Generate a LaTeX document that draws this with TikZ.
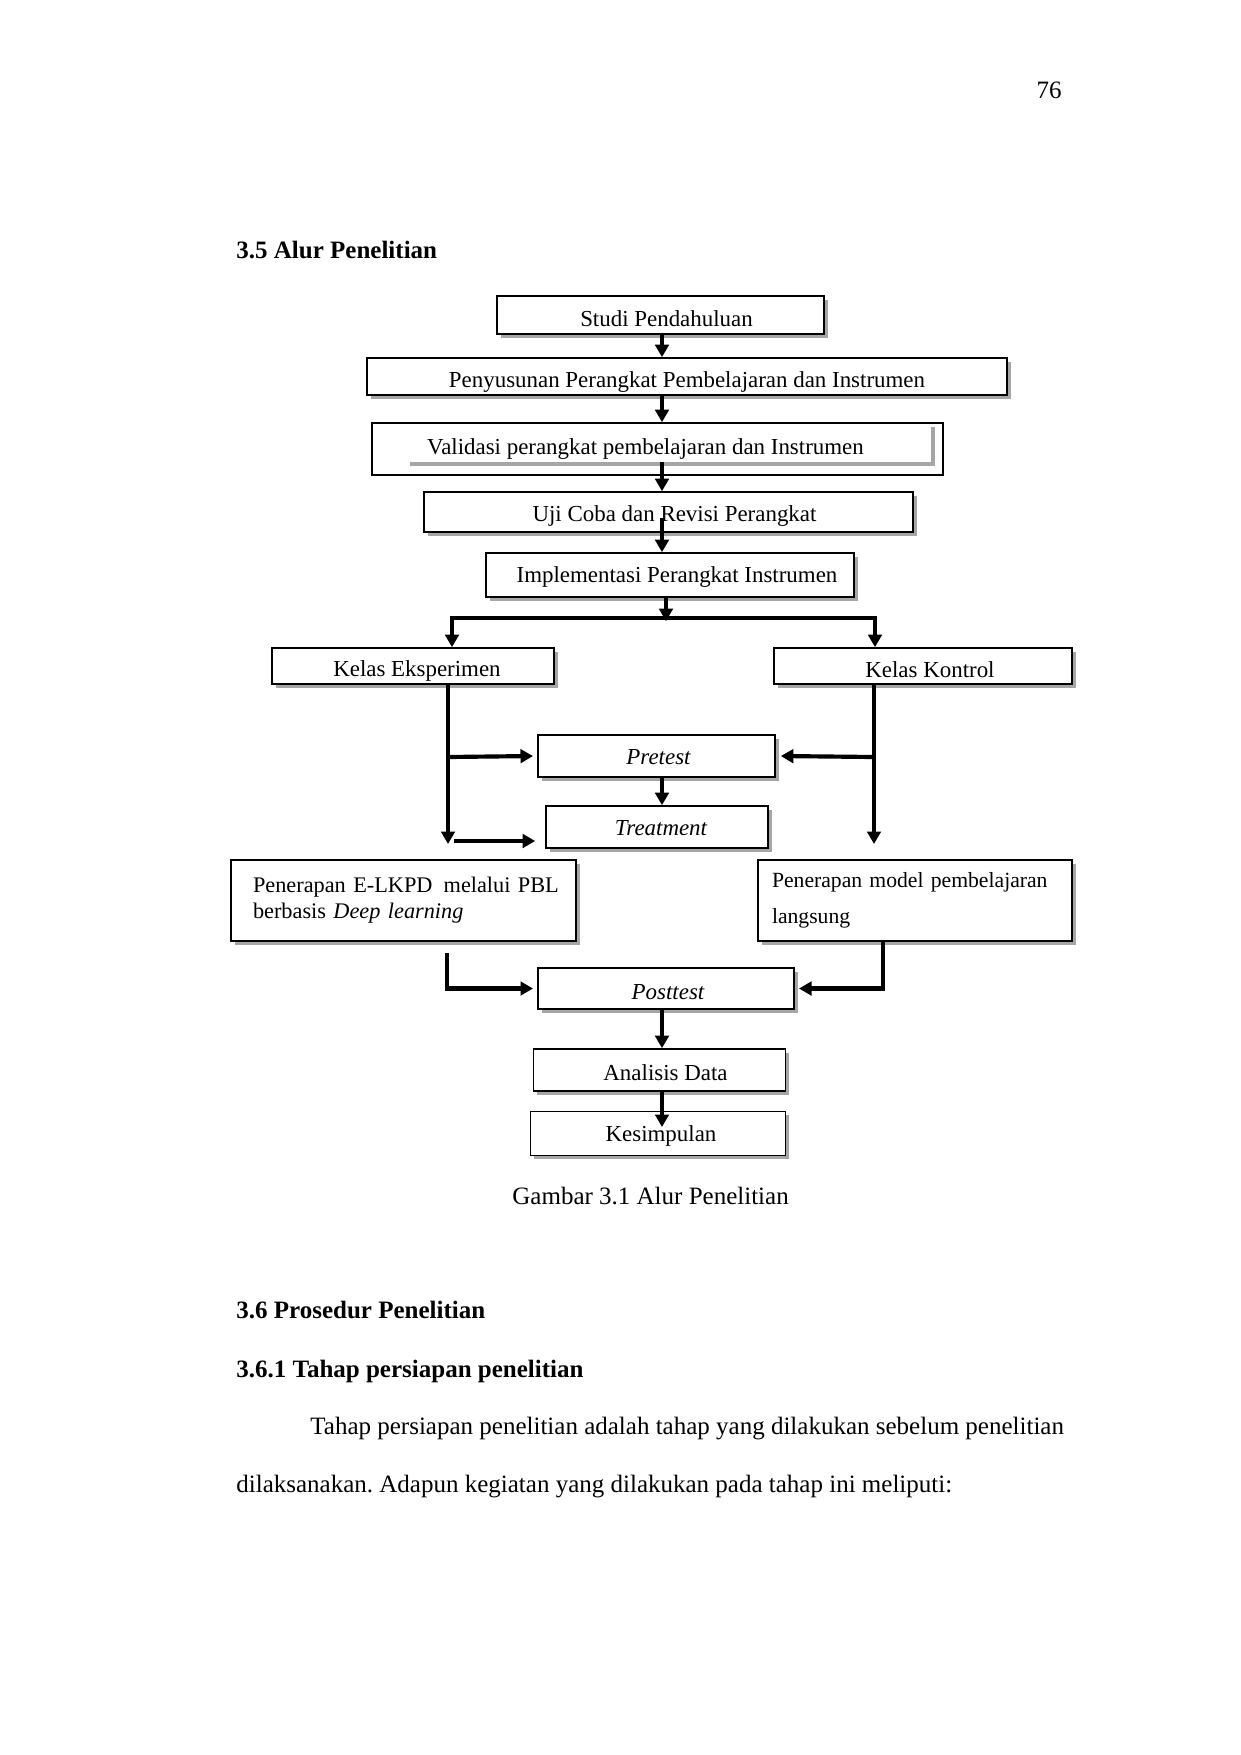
\documentclass[tikz,border=0pt]{standalone}
\usepackage{fontspec}
\setmainfont{Liberation Serif}
\usetikzlibrary{arrows.meta,shadows}
\newcommand\pxu{0.48pt}
\newlength\pxl
\setlength\pxl{0.48pt}
\frenchspacing
\begin{document}
\begin{tikzpicture}[x=0.48pt,y=-0.48pt,
  fbox/.style={draw=black, line width=0.8pt, fill=white, inner sep=0pt,
    font=\fontsize{11}{13}\selectfont,
    general shadow={fill=gray!70, shadow xshift=1.9pt, shadow yshift=-1.9pt}},
  plainbox/.style={draw=black, line width=0.8pt, fill=white, inner sep=0pt,
    font=\fontsize{11}{13}\selectfont},
  th/.style={text height=#1, text depth=0pt},
  arr/.style={line width=2pt, -{Triangle[length=6pt,width=6.5pt]}},
  darr/.style={line width=2pt, line join=miter, {Triangle[length=6pt,width=6.5pt]}-{Triangle[length=6pt,width=6.5pt]}},
  hd/.style={font=\fontsize{12}{14}\selectfont\bfseries, anchor=base west, inner sep=0pt},
  bt/.style={font=\fontsize{12}{14}\selectfont, anchor=base west, inner sep=0pt},
]
\fill[white] (0,0) rectangle (1241,1755);
\useasboundingbox (0,0) rectangle (1241,1755);

% page texts
\node[bt, anchor=base east] (pgnum) at (1062,98) {76};
\node[hd] (h35) at (236,258) {3.5 Alur Penelitian};

% boxes
\node[fbox, th=10.8pt, minimum width=327*\pxu, minimum height=38*\pxu] (studi) at (660.5,315) {\hspace*{12\pxl}Studi Pendahuluan};
\node[fbox, th=10.4pt, minimum width=640*\pxu, minimum height=37*\pxu] (penyus) at (687,376.5) {Penyusunan Perangkat Pembelajaran dan Instrumen};
\node[plainbox, minimum width=571*\pxu, minimum height=52*\pxu] (valid) at (657.5,449) {\hspace*{-24\pxl}Validasi perangkat pembelajaran dan Instrumen};
\draw[gray!70, line width=1.9pt] (410,464) -- (933,464) -- (933,427);
\node[fbox, th=9.5pt, minimum width=489*\pxu, minimum height=40*\pxu] (uji) at (668.5,512) {\hspace*{12\pxl}Uji Coba dan Revisi Perangkat};
\node[fbox, th=7.3pt, minimum width=368*\pxu, minimum height=44*\pxu] (impl) at (670,575) {\hspace*{14\pxl}Implementasi Perangkat Instrumen};
\node[fbox, th=10.4pt, minimum width=282*\pxu, minimum height=36*\pxu] (ke) at (413,666) {\hspace*{8\pxl}Kelas Eksperimen};
\node[fbox, th=10.8pt, minimum width=298*\pxu, minimum height=36*\pxu] (kk) at (923,666) {\hspace*{14\pxl}Kelas Kontrol};
\node[fbox, th=8.6pt, minimum width=237*\pxu, minimum height=42*\pxu] (pre) at (656.5,756) {\itshape\hspace*{4\pxl}Pretest};
\node[fbox, th=8.6pt, minimum width=222*\pxu, minimum height=42*\pxu] (tr) at (657,827) {\itshape\hspace*{8\pxl}Treatment};
\node[fbox, text width=301*\pxu, inner xsep=22*\pxu, minimum height=81*\pxu, align=left,
  font=\fontsize{10.7}{12.5}\selectfont] (elkpd) at (403.5,900.5)
  {\mbox{Penerapan E-LKPD\hspace{0.5em}melalui PBL}\\\mbox{berbasis \textit{Deep learning}}};
\node[fbox, text width=286*\pxu, inner xsep=14*\pxu, minimum height=81*\pxu, align=left,
  font=\fontsize{10.4}{17.3}\selectfont] (pm) at (915,900.5)
  {\mbox{Penerapan model pembelajaran}\\\mbox{langsung}};
\node[fbox, th=10.8pt, minimum width=256*\pxu, minimum height=41*\pxu] (post) at (666,988.5) {\itshape\hspace*{4\pxl}Posttest};
\node[fbox, th=9.7pt, minimum width=252*\pxu, minimum height=42*\pxu] (ana) at (659.5,1070) {\hspace*{12\pxl}Analisis Data};
\node[fbox, th=7.3pt, minimum width=255*\pxu, minimum height=44*\pxu] (kes) at (658,1133.5) {\hspace*{6\pxl}Kesimpulan};

\node[bt] (cap) at (512,1204) {Gambar 3.1 Alur Penelitian};

% connector helper coordinates
\coordinate (cx) at (662,0);
\coordinate (v1) at (662,462);
\coordinate (u1) at (662,518);
\coordinate (br) at (666,618);
\coordinate (bl) at (452,618);
\coordinate (bR) at (875,618);
\coordinate (xl) at (448,757);
\coordinate (xle) at (448,844);
\coordinate (xr) at (874,757);
\coordinate (xre) at (874,844);
\coordinate (t1) at (454,841);
\coordinate (pl) at (447,953);
\coordinate (pr) at (883,0);
\coordinate (k1) at (662,1127);

% connectors
\draw[arr] (cx |- studi.south) -- (cx |- penyus.north);
\draw[arr] (cx |- penyus.south) -- (cx |- valid.north);
\draw[arr] (v1) -- (cx |- uji.north);
\draw[arr] (u1) -- (cx |- impl.north);
\draw[arr] (br |- impl.south) -- ([yshift=-1.5pt]br);
\draw[darr] (bl |- ke.north) -- (bl) -- (bR) -- (bR |- kk.north);
\draw[arr] (xl |- ke.south) -- (xle);
\draw[arr] (xl) -- ([xshift=-2pt]pre.west);
\draw[arr] (t1) -- ([xshift=-4.8pt]t1 -| tr.west);
\draw[arr] (xr |- kk.south) -- (xre);
\draw[arr] (xr) -- ([xshift=2.4pt]pre.east);
\draw[arr] (cx |- pre.south) -- (cx |- tr.north);
\draw[arr] (pl) -- (pl |- post.west) -- ([xshift=-2pt]post.west);
\draw[arr] (pr |- pm.south) -- (pr |- post.east) -- ([xshift=2pt]post.east);
\draw[arr] (cx |- post.south) -- (cx |- ana.north);
\draw[arr] (cx |- ana.south) -- (k1);

% lower page text
\node[hd] (h36) at (236,1318) {3.6 Prosedur Penelitian};
\node[hd] (h361) at (236,1377) {3.6.1 Tahap persiapan penelitian};
\node[bt] (p1) at (310,1434) {Tahap persiapan penelitian adalah tahap yang dilakukan sebelum penelitian};
\node[bt] (p2) at (236,1492) {dilaksanakan. Adapun kegiatan yang dilakukan pada tahap ini meliputi:};
\end{tikzpicture}
\end{document}
